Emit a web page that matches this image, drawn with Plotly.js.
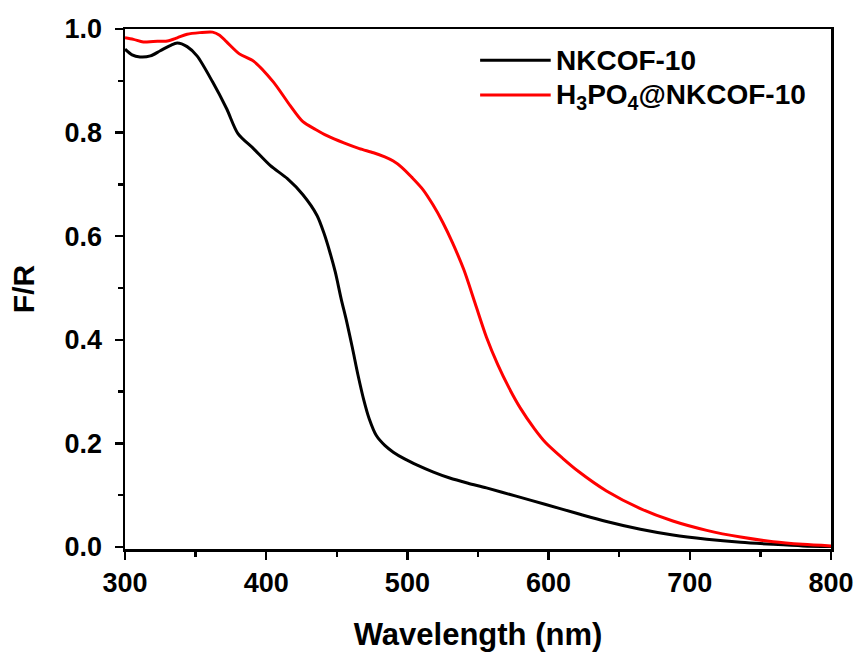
<!DOCTYPE html>
<html>
<head>
<meta charset="utf-8">
<script src="https://cdn.plot.ly/plotly-3.0.1.min.js"></script>
<style>html,body{margin:0;padding:0;background:#fff;}</style>
</head>
<body>
<div id="chart" style="width:859px;height:657px;"></div>
<script>
// NKCOF-10 (black)
const wlBlack = [300, 305, 310.6, 318, 325, 332, 337, 344, 351, 362, 372, 380, 391, 403, 415, 426, 436, 441, 445, 449, 453, 457, 461, 465, 469, 473, 478, 484, 490, 498, 507, 518, 530, 543, 556, 577, 598, 621, 641, 665, 688, 712, 736, 759, 780, 800];
const frBlack = [0.961, 0.950, 0.946, 0.948, 0.958, 0.968, 0.973, 0.966, 0.948, 0.898, 0.846, 0.798, 0.769, 0.736, 0.711, 0.680, 0.640, 0.605, 0.570, 0.530, 0.480, 0.435, 0.385, 0.332, 0.285, 0.247, 0.215, 0.196, 0.183, 0.170, 0.158, 0.145, 0.133, 0.123, 0.114, 0.098, 0.082, 0.064, 0.049, 0.034, 0.023, 0.015, 0.009, 0.005, 0.002, 0.001];
// H3PO4@NKCOF-10 (red)
const wlRed = [300, 306, 313, 320, 330, 337, 344, 353, 362, 367, 372, 381, 391, 405, 417, 426, 435, 443, 455, 466, 476, 484, 490, 496, 503, 511, 518, 525, 532, 540, 548, 556, 564, 572, 580, 590, 598, 610, 621, 641, 665, 688, 712, 736, 759, 780, 800];
const frRed = [0.983, 0.980, 0.975, 0.976, 0.977, 0.983, 0.990, 0.993, 0.994, 0.988, 0.975, 0.952, 0.938, 0.898, 0.852, 0.821, 0.806, 0.794, 0.780, 0.769, 0.761, 0.753, 0.745, 0.733, 0.714, 0.690, 0.661, 0.627, 0.587, 0.535, 0.470, 0.405, 0.352, 0.307, 0.268, 0.228, 0.201, 0.171, 0.146, 0.108, 0.074, 0.050, 0.032, 0.019, 0.010, 0.005, 0.002];

const seriesNames = ['NKCOF-10', 'H<sub>3</sub>PO<sub>4</sub>@NKCOF-10'];
const seriesColors = ['#000000', '#ff0000'];
const xTicks = [300, 400, 500, 600, 700, 800];
const yTicks = [0.0, 0.2, 0.4, 0.6, 0.8, 1.0];
const yTickText = ['0.0', '0.2', '0.4', '0.6', '0.8', '1.0'];

const fontFam = 'Arial, "Liberation Sans", sans-serif';

const traces = [
  {x: wlBlack, y: frBlack, type: 'scatter', mode: 'lines', name: seriesNames[0],
   line: {color: seriesColors[0], width: 3, shape: 'spline', smoothing: 0.8}},
  {x: wlRed, y: frRed, type: 'scatter', mode: 'lines', name: seriesNames[1],
   line: {color: seriesColors[1], width: 3, shape: 'spline', smoothing: 0.8}}
];

const axisCommon = {
  showline: true, linecolor: '#000', linewidth: 2.5, mirror: true,
  ticks: 'outside', ticklen: 8, tickwidth: 2.5, tickcolor: '#000',
  showgrid: false, zeroline: false,
  tickfont: {family: fontFam, size: 27, color: '#000', weight: 'bold'}
};

// custom legend (line samples + labels) in paper coordinates
const legRows = [0.940, 0.873];
const shapes = legRows.map((yy, i) => ({
  type: 'line', xref: 'paper', yref: 'paper', x0: 0.503, x1: 0.603, y0: yy, y1: yy,
  line: {color: seriesColors[i], width: 3}
}));
const annotations = legRows.map((yy, i) => ({
  xref: 'paper', yref: 'paper', x: 0.608, y: yy, xanchor: 'left', yanchor: 'middle',
  text: seriesNames[i], showarrow: false, yshift: i === 1 ? -1 : 0,
  font: {family: fontFam, size: 28, color: '#000', weight: 'bold'}
}));

const layout = {
  width: 859, height: 657,
  margin: {l: 125, r: 28, t: 29, b: 108},
  paper_bgcolor: '#fff', plot_bgcolor: '#fff',
  showlegend: false,
  shapes: shapes,
  annotations: annotations,
  xaxis: Object.assign({}, axisCommon, {
    range: [300, 800], tickvals: xTicks,
    minor: {dtick: 50, ticks: 'outside', ticklen: 5, tickwidth: 2.5, tickcolor: '#000'},
    title: {text: 'Wavelength (nm)', font: {family: fontFam, size: 31, color: '#000', weight: 'bold'}, standoff: 27}
  }),
  yaxis: Object.assign({}, axisCommon, {
    range: [-0.004, 1.0], tickvals: yTicks, ticktext: yTickText, ticklabelstandoff: 7,
    minor: {dtick: 0.1, ticks: 'outside', ticklen: 5, tickwidth: 2.5, tickcolor: '#000'},
    title: {text: 'F/R', font: {family: fontFam, size: 30, color: '#000', weight: 'bold'}, standoff: 21}
  })
};

Plotly.newPlot('chart', traces, layout, {displayModeBar: false, staticPlot: true});
</script>
</body>
</html>
